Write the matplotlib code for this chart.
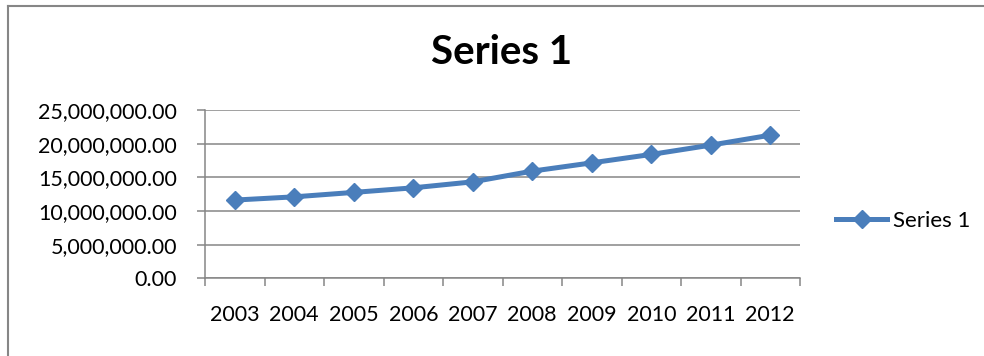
import matplotlib
matplotlib.use("Agg")
import matplotlib.pyplot as plt
from matplotlib.ticker import FuncFormatter, FixedLocator
from matplotlib.lines import Line2D

plt.rcParams['font.family'] = ['Lato', 'DejaVu Sans']

years = ['2003', '2004', '2005', '2006', '2007', '2008', '2009', '2010', '2011', '2012']
values = [11620000, 12100000, 12760000, 13440000, 14330000,
          15920000, 17150000, 18400000, 19780000, 21260000]
series_name = 'Series 1'
y_ticks = [0, 5000000, 10000000, 15000000, 20000000, 25000000]

W, H = 984, 356
fig = plt.figure(figsize=(W / 100, H / 100), dpi=100)
fig.patch.set_facecolor('white')

left, right, top, bottom = 205, 800, 110, 278.3
ax = fig.add_axes([left / W, 1 - bottom / H, (right - left) / W, (bottom - top) / H])

grey = '#868686'
blue = '#4A7EBB'

x = list(range(len(years)))
ax.plot(x, values, color=blue, lw=3.6, marker='D', markersize=9,
        markeredgecolor=blue, markerfacecolor=blue, label=series_name,
        solid_joinstyle='round', zorder=3)

ax.set_xlim(-0.5, len(years) - 0.5)
ax.set_ylim(0, 25000000)
ax.set_yticks(y_ticks)
ax.yaxis.set_major_formatter(FuncFormatter(lambda v, p: f'{v:,.2f}'))
ax.yaxis.grid(True, color=grey, lw=1.1)
ax.set_axisbelow(True)

# category labels at centers, tick marks at boundaries
ax.set_xticks(x)
ax.set_xticklabels(years)
ax.xaxis.set_minor_locator(FixedLocator([i - 0.5 for i in range(len(years) + 1)]))
ax.tick_params(axis='x', which='major', length=0, pad=19.5, labelsize=15.5, colors='black')
ax.tick_params(axis='x', which='minor', length=6, width=1.1, color=grey, direction='out')
ax.tick_params(axis='y', length=6, width=1.1, color=grey, pad=14, labelsize=15.5, labelcolor='black')

for s in ['top', 'right']:
    ax.spines[s].set_visible(False)
for s in ['left', 'bottom']:
    ax.spines[s].set_color(grey)
    ax.spines[s].set_linewidth(1.1)

# Title
fig.text(502 / W, 1 - 53 / H, series_name, ha='center', va='center',
         fontsize=29, fontweight='bold', color='black')

# Legend
leg = fig.legend(loc='center left', bbox_to_anchor=(836 / W, 1 - 221 / H),
                 frameon=False, fontsize=16, handlelength=2.3, handletextpad=0.25,
                 borderpad=0, borderaxespad=0)

# Chart area border (top and left visible)
fig.add_artist(Line2D([8 / W, 1.0], [1 - 5.5 / H, 1 - 5.5 / H], color=grey, lw=1.5,
                      transform=fig.transFigure))
fig.add_artist(Line2D([8 / W, 8 / W], [0.0, 1 - 5.5 / H], color=grey, lw=1.5,
                      transform=fig.transFigure))

fig.savefig('out.png', dpi=100, facecolor='white')
